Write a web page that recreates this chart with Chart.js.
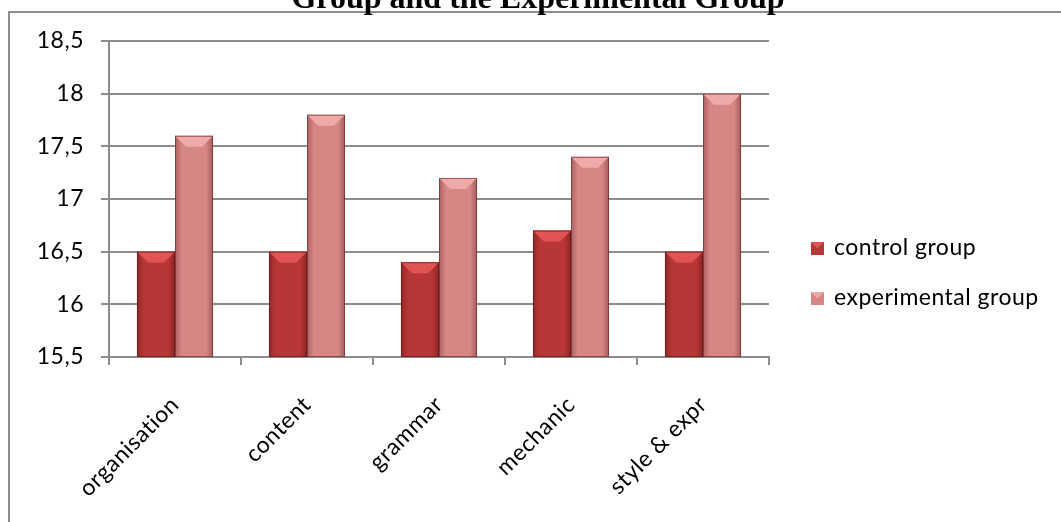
<!DOCTYPE html>
<html>
<head>
<meta charset="utf-8">
<script src="https://cdn.jsdelivr.net/npm/chart.js@4/dist/chart.umd.min.js"></script>
<style>
  html, body { margin: 0; padding: 0; background: #fff; }
  #wrap { position: relative; width: 1061px; height: 522px; }
</style>
</head>
<body>
<div id="wrap"><canvas id="scoreChart" width="1061" height="522"></canvas></div>
<script>
const categories = ['organisation', 'content', 'grammar', 'mechanic', 'style & expr'];
const controlScores = [16.5, 16.5, 16.4, 16.7, 16.5];
const experimentalScores = [17.6, 17.8, 17.2, 17.4, 18.0];
const seriesNames = ['control group', 'experimental group'];
const titleText = 'Group and the Experimental Group';

const FONT = 'Lato, "Liberation Sans", sans-serif';
const SPACING = '0.5px';

// outer frame, cut-off title and legend drawn by hand
const decorPlugin = {
  id: 'decor',
  beforeUpdate(chart) {
    chart.ctx.letterSpacing = SPACING;
  },
  beforeDraw(chart) {
    const ctx = chart.ctx;
    ctx.letterSpacing = SPACING; // a bit of Calibri-like spacing for all text
    ctx.save();
    ctx.fillStyle = '#fff';
    ctx.fillRect(0, 0, chart.width, chart.height);
    ctx.strokeStyle = '#8c8c8c';
    ctx.lineWidth = 2;
    ctx.beginPath();
    ctx.moveTo(9, chart.height);
    ctx.lineTo(9, 12);
    ctx.lineTo(chart.width, 12);
    ctx.stroke();
    ctx.letterSpacing = '0px';
    ctx.fillStyle = '#000';
    ctx.font = 'bold 32px "Liberation Serif", "Times New Roman", serif';
    ctx.textAlign = 'center';
    ctx.textBaseline = 'alphabetic';
    ctx.fillText(titleText, 538, 8);
    ctx.restore();
  },
  afterDatasetsDraw(chart) {
    const ctx = chart.ctx;
    const bottom = chart.chartArea.bottom;
    ctx.save();
    chart.data.datasets.forEach((ds, i) => {
      const meta = chart.getDatasetMeta(i);
      meta.data.forEach(bar => {
        const p = bar.getProps(['x', 'y', 'base', 'width'], true);
        const l = p.x - p.width / 2, r = p.x + p.width / 2;
        const b = Math.min(p.base, bottom);
        // side shading
        const g = ctx.createLinearGradient(l, 0, r, 0);
        g.addColorStop(0, 'rgba(60,0,0,0.28)');
        g.addColorStop(0.18, 'rgba(60,0,0,0)');
        g.addColorStop(0.82, 'rgba(60,0,0,0)');
        g.addColorStop(1, 'rgba(60,0,0,0.32)');
        ctx.fillStyle = g;
        ctx.fillRect(l, p.y, p.width, b - p.y);
        // top bevel
        const bev = 11;
        ctx.fillStyle = ds.bevelColor;
        ctx.beginPath();
        ctx.moveTo(l, p.y);
        ctx.lineTo(r, p.y);
        ctx.lineTo(r - bev, p.y + bev);
        ctx.lineTo(l + bev, p.y + bev);
        ctx.closePath();
        ctx.fill();
        ctx.strokeStyle = ds.outline;
        ctx.lineWidth = 1;
        ctx.strokeRect(l + 0.5, p.y + 0.5, p.width - 1, b - p.y - 1);
      });
    });
    ctx.restore();
  },
  afterDraw(chart) {
    const ctx = chart.ctx;
    ctx.save();
    ctx.font = '23px ' + FONT;
    ctx.textBaseline = 'middle';
    ctx.textAlign = 'left';
    const ys = [248, 298];
    chart.data.datasets.forEach((ds, i) => {
      const y = ys[i];
      ctx.fillStyle = ds.backgroundColor;
      ctx.fillRect(811, y - 6, 13, 13);
      ctx.fillStyle = ds.bevelColor;
      ctx.beginPath();
      ctx.moveTo(811, y - 6);
      ctx.lineTo(824, y - 6);
      ctx.lineTo(817.5, y + 0.5);
      ctx.closePath();
      ctx.fill();
      ctx.fillStyle = '#000';
      ctx.fillText(ds.label, 834, y);
    });
    ctx.restore();
  }
};

const ctx = document.getElementById('scoreChart').getContext('2d');
const chart = new Chart(ctx, {
  type: 'bar',
  data: {
    labels: categories,
    datasets: [{
      label: seriesNames[0],
      data: controlScores,
      backgroundColor: '#b73636',
      bevelColor: '#e05454',
      outline: 'rgba(90,20,20,0.6)',
      borderWidth: 0
    }, {
      label: seriesNames[1],
      data: experimentalScores,
      backgroundColor: '#d78585',
      bevelColor: '#eeaaaa',
      outline: 'rgba(110,50,50,0.7)',
      borderWidth: 0
    }]
  },
  options: {
    responsive: false,
    animation: false,
    events: [],
    layout: { padding: { top: 41, left: 0, right: 292, bottom: 0 } },
    categoryPercentage: 0.576,
    barPercentage: 1.0,
    plugins: {
      legend: { display: false },
      title: { display: false },
      tooltip: { enabled: false }
    },
    scales: {
      x: {
        afterFit: s => { s.height = 165; },
        grid: { drawOnChartArea: false, drawTicks: true, tickLength: 8, color: '#8c8c8c', lineWidth: 2 },
        border: { color: '#8c8c8c', width: 2 },
        ticks: {
          color: '#000',
          font: { family: FONT, size: 23 },
          minRotation: 45,
          maxRotation: 45,
          padding: 26
        }
      },
      y: {
        min: 15.5,
        max: 18.5,
        afterFit: s => { s.width = 109; },
        grid: { color: '#8c8c8c', lineWidth: 2, tickLength: 8 },
        border: { color: '#8c8c8c', width: 2 },
        ticks: {
          stepSize: 0.5,
          color: '#000',
          font: { family: FONT, size: 23 },
          padding: 17,
          callback: v => String(v).replace('.', ',')
        }
      }
    }
  },
  plugins: [decorPlugin]
});
</script>
</body>
</html>
